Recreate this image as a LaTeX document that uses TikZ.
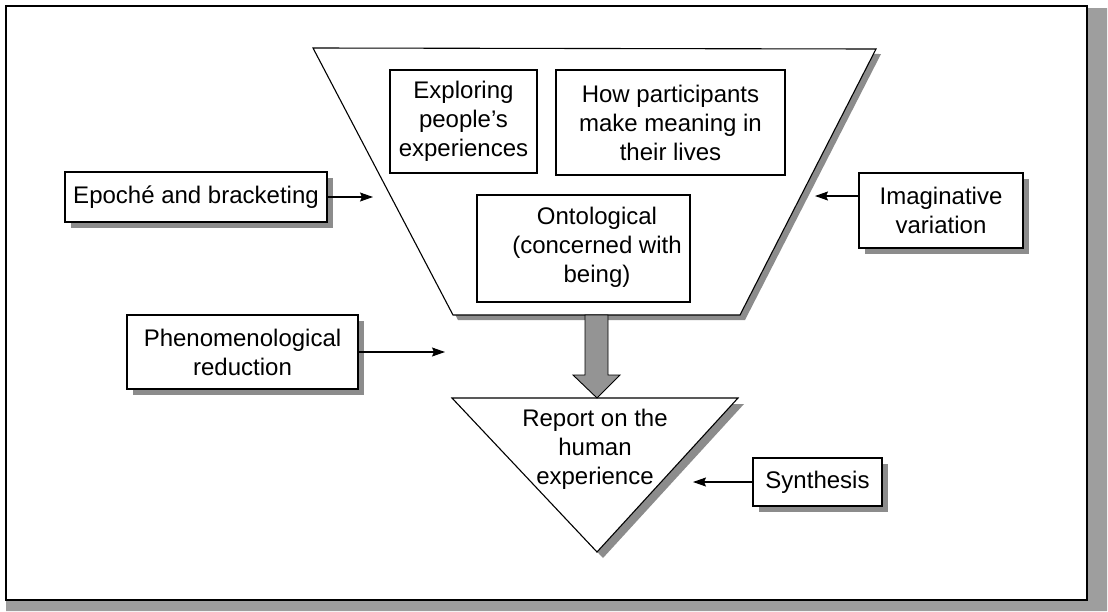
\documentclass[tikz,border=0pt]{standalone}
\usepackage{fontspec}
\setmainfont{Liberation Sans}
\usetikzlibrary{arrows.meta,shadows,calc}
\begin{document}
\begin{tikzpicture}[x=1pt,y=-1pt,
  every node/.style={font=\fontsize{24}{29}\selectfont},
  box/.style={draw, line width=1.1pt, fill=white, inner sep=0pt, align=center},
  sbox/.style={box, drop shadow={shadow xshift=6pt,shadow yshift=-6pt,fill=black!45,opacity=1}},
  link/.style={line width=1.1pt, -{Stealth[length=13pt,width=9pt,inset=2pt]}},
  outline/.style={draw, line width=1.1pt, line join=miter, fill=white},
  shade/.style={fill=black!45, draw=none},
  bigarrow/.style={draw, line width=0.9pt, fill=black!42, line join=miter}
]
\useasboundingbox (0,0) rectangle (1108,611);

% page frame with its shadow
\fill[black!38] (1087,8) -- (1107,8) -- (1107,611) -- (6,611) -- (6,600) -- (1087,600) -- cycle;
\draw[line width=1.6pt, fill=white] (6,6) rectangle (1087,600);

% funnel
\coordinate (fTL) at (313,48);
\coordinate (fTR) at (876,49);
\coordinate (fBR) at (740,315);
\coordinate (fBL) at (453,315);
\fill[shade] ($(fTL)+(5,5)$) -- ($(fTR)+(5,5)$) -- ($(fBR)+(5,5)$) -- ($(fBL)+(5,5)$) -- cycle;
\path[outline] (fTL) -- (fTR) -- (fBR) -- (fBL) -- cycle;

\node[box, minimum width=147pt, minimum height=103pt] (explore) at (463.5,121.5)
  {Exploring\\people’s\\experiences};
\node[box, minimum width=229pt, minimum height=105pt] (meaning) at (670.5,122.5)
  {How participants\\make meaning in\\their lives};
\node[box, minimum width=213pt, minimum height=107pt] (onto) at (583.5,248.5) {};
\node[align=center, inner sep=0pt] (ontotext) at (597,247)
  {Ontological\\(concerned with\\being)};

% report triangle
\coordinate (tTL) at (452,398);
\coordinate (tTR) at (738,398);
\coordinate (tB) at (597,552);
\fill[shade] ($(tTL)+(6,6)$) -- ($(tTR)+(6,6)$) -- ($(tB)+(6,6)$) -- cycle;
\path[outline] (tTL) -- (tTR) -- (tB) -- cycle;
\node[align=center, inner sep=0pt] (report) at (595,449) {Report on the\\human\\experience};

% wide arrow from funnel to report
\coordinate (fB) at (597,315);
\coordinate (rT) at (597,398);
\path[bigarrow] ($(fB)+(-12,0)$) -- ($(fB)+(11,0)$) -- ($(rT)+(11,-23)$)
  -- ($(rT)+(23,-23)$) -- (rT) -- ($(rT)+(-24,-23)$) -- ($(rT)+(-12,-23)$) -- cycle;

% side boxes
\node[sbox, minimum width=262pt, minimum height=50pt] (epoche) at (196,197)
  {Epoché and bracketing};
\node[sbox, minimum width=164pt, minimum height=75pt] (imag) at (941,210.5)
  {Imaginative\\variation};
\node[sbox, minimum width=231pt, minimum height=74pt] (pheno) at (242.5,352)
  {Phenomenological\\reduction};
\node[sbox, minimum width=129pt, minimum height=48pt] (synth) at (817.5,482)
  {Synthesis};

% arrows
\coordinate (epochetip) at (373,197);
\coordinate (imagtip) at (815,196);
\coordinate (phenotip) at (445,352);
\coordinate (synthtip) at (693,482);
\draw[link] (epoche.east) -- (epochetip);
\draw[link] (imagtip -| imag.west) -- (imagtip);
\draw[link] (pheno.east) -- (phenotip);
\draw[link] (synth.west) -- (synthtip);
\end{tikzpicture}
\end{document}
